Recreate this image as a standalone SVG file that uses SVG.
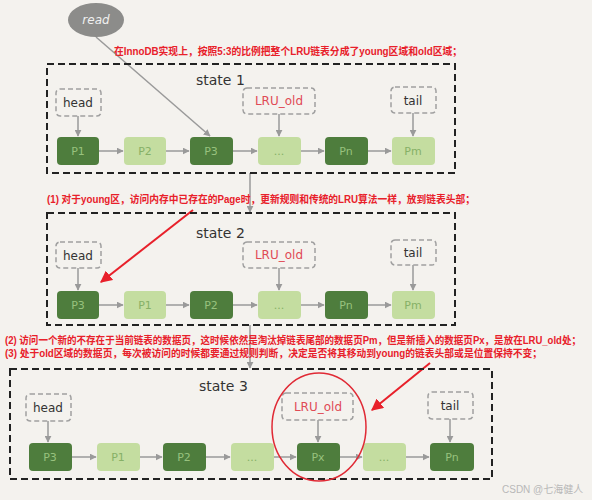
<svg xmlns="http://www.w3.org/2000/svg" width="592" height="500" viewBox="0 0 592 500">
<defs>
<marker id="ag" viewBox="0 0 10 10" refX="9" refY="5" markerWidth="7" markerHeight="7" orient="auto" markerUnits="userSpaceOnUse"><path d="M0,0 L10,5 L0,10 z" fill="#9a9a9a"/></marker>
<marker id="ar" viewBox="0 0 10 10" refX="9" refY="5" markerWidth="12" markerHeight="12" orient="auto" markerUnits="userSpaceOnUse"><path d="M0,0 L10,5 L0,10 z" fill="#e8202a"/></marker>
<style>
.bg{fill:#f4f2ee}
.state{fill:none;stroke:#222;stroke-width:2;stroke-dasharray:7,4}
.ptr{fill:#f4f2ee;stroke:#a0a0a0;stroke-width:1.5;stroke-dasharray:5,3}
.dk{fill:#4e7d3d}
.lt{fill:#c4dda0}
.tdk{font-family:"DejaVu Sans",sans-serif;font-size:11px;fill:#98c27e;text-anchor:middle}
.tlt{font-family:"DejaVu Sans",sans-serif;font-size:11px;fill:#86b066;text-anchor:middle}
.lbl{font-family:"DejaVu Sans",sans-serif;font-size:12px;fill:#333;text-anchor:middle}
.old{font-family:"DejaVu Sans",sans-serif;font-size:12px;fill:#e04a55;text-anchor:middle}
.st{font-family:"DejaVu Sans",sans-serif;font-size:14px;fill:#333}
.red{font-family:"Liberation Sans","Noto Sans CJK SC",sans-serif;font-size:10.5px;font-weight:bold;fill:#e8202a}
.con{stroke:#9a9a9a;stroke-width:1.5;fill:none;marker-end:url(#ag)}
.rc{stroke:#e8202a;stroke-width:2;fill:none;marker-end:url(#ar)}
</style>
</defs>
<rect class="bg" x="0" y="0" width="592" height="500"/>

<g id="connectors">
<line class="con" x1="96" y1="37" x2="210" y2="136"/>
<line class="con" x1="250" y1="173" x2="250" y2="212"/>
<line class="con" x1="250" y1="325" x2="250" y2="368"/>
<line class="con" x1="78" y1="116" x2="78" y2="136"/>
<line class="con" x1="279" y1="114" x2="279" y2="136"/>
<line class="con" x1="413" y1="113" x2="413" y2="136"/>
<line class="con" x1="99" y1="151" x2="123" y2="151"/>
<line class="con" x1="166" y1="151" x2="189" y2="151"/>
<line class="con" x1="233" y1="151" x2="257" y2="151"/>
<line class="con" x1="301" y1="151" x2="324" y2="151"/>
<line class="con" x1="368" y1="151" x2="391" y2="151"/>
<line class="con" x1="78" y1="268" x2="78" y2="290"/>
<line class="con" x1="279" y1="268" x2="279" y2="290"/>
<line class="con" x1="413" y1="265" x2="413" y2="290"/>
<line class="con" x1="99" y1="305" x2="123" y2="305"/>
<line class="con" x1="166" y1="305" x2="189" y2="305"/>
<line class="con" x1="233" y1="305" x2="257" y2="305"/>
<line class="con" x1="301" y1="305" x2="324" y2="305"/>
<line class="con" x1="368" y1="305" x2="391" y2="305"/>
<line class="con" x1="48" y1="421" x2="48" y2="442"/>
<line class="con" x1="318" y1="420" x2="318" y2="442"/>
<line class="con" x1="450" y1="419" x2="450" y2="442"/>
<line class="con" x1="72" y1="457" x2="96" y2="457"/>
<line class="con" x1="140" y1="457" x2="162" y2="457"/>
<line class="con" x1="206" y1="457" x2="230" y2="457"/>
<line class="con" x1="274" y1="457" x2="296" y2="457"/>
<line class="con" x1="340" y1="457" x2="362" y2="457"/>
<line class="con" x1="406" y1="457" x2="429" y2="457"/>
<line class="rc" x1="193" y1="210" x2="101" y2="282"/>
<line class="rc" x1="430" y1="363" x2="372" y2="410"/>
</g>

<g id="read">
<ellipse cx="96" cy="20" rx="28" ry="17" fill="#8c8c8a"/>
<text x="96" y="24" font-family="DejaVu Sans,sans-serif" font-size="12" font-style="italic" fill="#f0f0f0" text-anchor="middle">read</text>
</g>

<g id="notes">
<text class="red" x="114" y="55" textLength="348" lengthAdjust="spacingAndGlyphs">在InnoDB实现上，按照5:3的比例把整个LRU链表分成了young区域和old区域；</text>
<text class="red" x="47" y="203" textLength="428" lengthAdjust="spacingAndGlyphs">(1) 对于young区，访问内存中已存在的Page时，更新规则和传统的LRU算法一样，放到链表头部；</text>
<text class="red" x="5" y="344" font-size="9" textLength="576" lengthAdjust="spacingAndGlyphs">(2) 访问一个新的不存在于当前链表的数据页，这时候依然是淘汰掉链表尾部的数据页Pm，但是新插入的数据页Px，是放在LRU_old处；</text>
<text class="red" x="5" y="357" textLength="537" lengthAdjust="spacingAndGlyphs">(3) 处于old区域的数据页，每次被访问的时候都要通过规则判断，决定是否将其移动到young的链表头部或是位置保持不变；</text>
</g>

<g id="state1">
<rect class="state" x="47" y="64" width="408" height="109"/>
<text class="st" x="196" y="85">state 1</text>
<rect class="ptr" x="56" y="89" width="45" height="27" rx="4"/>
<text class="lbl" x="78" y="107">head</text>
<rect class="ptr" x="243" y="88" width="72" height="26" rx="4"/>
<text class="old" x="279" y="105">LRU_old</text>
<rect class="ptr" x="391" y="87" width="45" height="26" rx="4"/>
<text class="lbl" x="413" y="105">tail</text>
<rect class="dk" x="57" y="137" width="42" height="28" rx="4"/><text class="tdk" x="78" y="155">P1</text>
<rect class="lt" x="124" y="137" width="42" height="28" rx="4"/><text class="tlt" x="145" y="155">P2</text>
<rect class="dk" x="190" y="137" width="43" height="28" rx="4"/><text class="tdk" x="211" y="155">P3</text>
<rect class="lt" x="258" y="137" width="43" height="28" rx="4"/><text class="tlt" x="279" y="155">...</text>
<rect class="dk" x="325" y="137" width="43" height="28" rx="4"/><text class="tdk" x="346" y="155">Pn</text>
<rect class="lt" x="392" y="137" width="43" height="28" rx="4"/><text class="tlt" x="413" y="155">Pm</text>
</g>

<g id="state2">
<rect class="state" x="47" y="213" width="408" height="112"/>
<text class="st" x="196" y="238">state 2</text>
<rect class="ptr" x="56" y="242" width="45" height="26" rx="4"/>
<text class="lbl" x="78" y="260">head</text>
<rect class="ptr" x="243" y="242" width="72" height="26" rx="4"/>
<text class="old" x="279" y="259">LRU_old</text>
<rect class="ptr" x="391" y="240" width="45" height="25" rx="4"/>
<text class="lbl" x="413" y="257">tail</text>
<rect class="dk" x="57" y="291" width="42" height="28" rx="4"/><text class="tdk" x="78" y="309">P3</text>
<rect class="lt" x="124" y="291" width="42" height="28" rx="4"/><text class="tlt" x="145" y="309">P1</text>
<rect class="dk" x="190" y="291" width="43" height="28" rx="4"/><text class="tdk" x="211" y="309">P2</text>
<rect class="lt" x="258" y="291" width="43" height="28" rx="4"/><text class="tlt" x="279" y="309">...</text>
<rect class="dk" x="325" y="291" width="43" height="28" rx="4"/><text class="tdk" x="346" y="309">Pn</text>
<rect class="lt" x="392" y="291" width="43" height="28" rx="4"/><text class="tlt" x="413" y="309">Pm</text>
</g>

<g id="state3">
<rect class="state" x="10" y="369" width="482" height="110"/>
<text class="st" x="199" y="391">state 3</text>
<rect class="ptr" x="26" y="394" width="45" height="27" rx="4"/>
<text class="lbl" x="48" y="412">head</text>
<rect class="ptr" x="282" y="393" width="71" height="27" rx="4"/>
<text class="old" x="318" y="411">LRU_old</text>
<rect class="ptr" x="428" y="392" width="45" height="27" rx="4"/>
<text class="lbl" x="450" y="410">tail</text>
<rect class="dk" x="29" y="443" width="43" height="28" rx="4"/><text class="tdk" x="50" y="461">P3</text>
<rect class="lt" x="97" y="443" width="43" height="28" rx="4"/><text class="tlt" x="118" y="461">P1</text>
<rect class="dk" x="163" y="443" width="43" height="28" rx="4"/><text class="tdk" x="184" y="461">P2</text>
<rect class="lt" x="231" y="443" width="43" height="28" rx="4"/><text class="tlt" x="252" y="461">...</text>
<rect class="dk" x="297" y="443" width="43" height="28" rx="4"/><text class="tdk" x="318" y="461">Px</text>
<rect class="lt" x="363" y="443" width="43" height="28" rx="4"/><text class="tlt" x="384" y="461">...</text>
<rect class="dk" x="430" y="443" width="44" height="28" rx="4"/><text class="tdk" x="452" y="461">Pn</text>
<ellipse cx="319" cy="427" rx="47" ry="54" fill="none" stroke="#e02a35" stroke-width="1.5"/>
</g>

<text x="502" y="493" font-family="Liberation Sans,Noto Sans CJK SC,sans-serif" font-size="10" fill="#b8b8b8">CSDN @七海健人</text>
</svg>
